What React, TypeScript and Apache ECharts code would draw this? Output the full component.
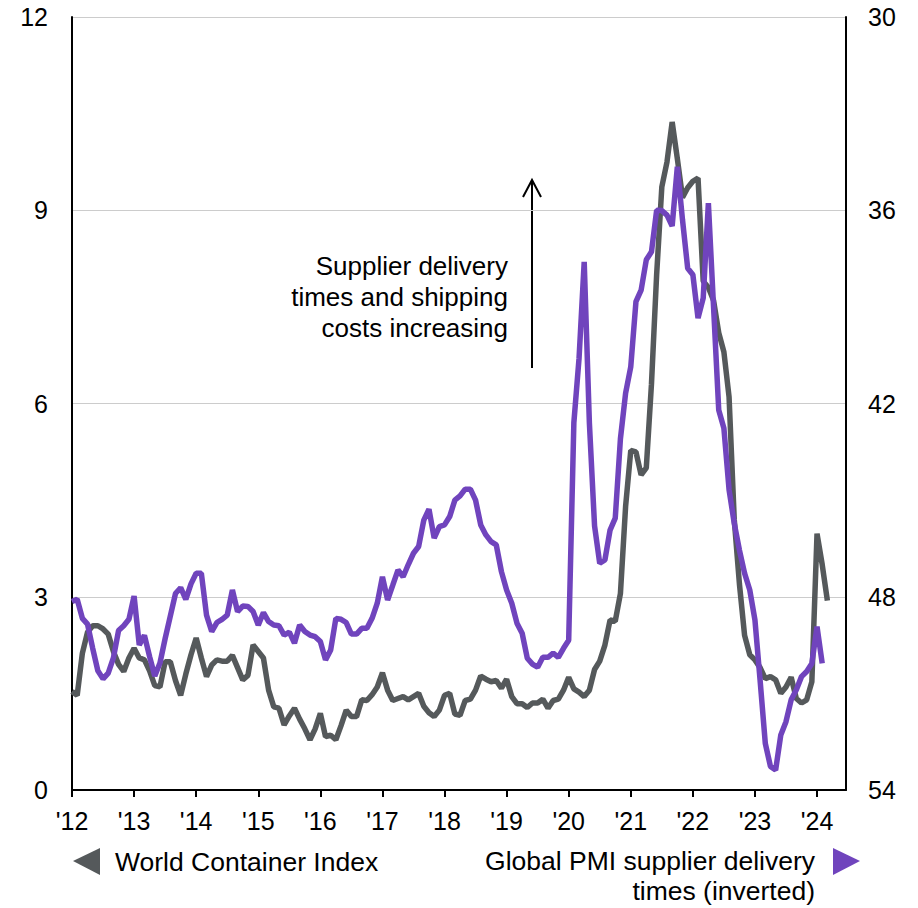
import React, { useEffect, useRef } from "react";
import * as echarts from "echarts";

// Monthly index: 0 = Jan 2012
const yearTicks = [0, 12, 24, 36, 48, 60, 72, 84, 96, 108, 120, 132, 144];

// World Container Index (left axis, US$ '000 per 40ft)
const wci = [
  1.53, 1.47, 2.12, 2.45, 2.55, 2.55, 2.5, 2.42, 2.15, 1.95, 1.84, 2.05,
  2.2, 2.05, 2.02, 1.85, 1.62, 1.6, 1.99, 1.99, 1.7, 1.47, 1.8, 2.1,
  2.36, 2.05, 1.76, 1.94, 2.02, 2.0, 2.0, 2.09, 1.9, 1.71, 1.78, 2.25,
  2.15, 2.05, 1.55, 1.29, 1.27, 1.01, 1.15, 1.27, 1.1, 0.95, 0.78, 0.95,
  1.19, 0.83, 0.85, 0.78, 1.0, 1.24, 1.14, 1.14, 1.4, 1.39, 1.48, 1.6,
  1.82, 1.55, 1.39, 1.42, 1.45, 1.4, 1.45, 1.5, 1.3, 1.2, 1.14, 1.24,
  1.47, 1.5, 1.18, 1.16, 1.39, 1.41, 1.55, 1.77, 1.72, 1.68, 1.7, 1.58,
  1.72, 1.45, 1.34, 1.34, 1.28, 1.35, 1.35, 1.41, 1.27, 1.39, 1.41, 1.55,
  1.75, 1.57, 1.52, 1.45, 1.55, 1.87, 2.0, 2.25, 2.64, 2.62, 3.05, 4.4,
  5.27, 5.25, 4.89, 5.0, 6.3, 8.0, 9.36, 9.75, 10.37, 9.8, 9.2, 9.35,
  9.45, 9.5, 7.9, 7.8, 7.6, 7.1, 6.8, 6.1, 4.2, 3.2, 2.4, 2.1,
  2.02, 1.9, 1.73, 1.76, 1.71, 1.5, 1.6, 1.75, 1.42, 1.35, 1.4, 1.68,
  3.98, 3.5, 2.94,
];

// Global PMI supplier delivery times (right axis, inverted)
const pmi = [
  48.15, 48.08, 48.67, 48.85, 49.6, 50.3, 50.55, 50.37, 49.9, 49.05, 48.9, 48.7,
  47.98, 49.5, 49.2, 49.86, 50.46, 50.06, 49.3, 48.6, 47.9, 47.72, 48.08, 47.6,
  47.27, 47.27, 48.57, 49.08, 48.8, 48.7, 48.57, 47.79, 48.46, 48.29, 48.3, 48.46,
  48.88, 48.49, 48.77, 48.88, 48.9, 49.19, 49.1, 49.44, 48.88, 49.08, 49.19, 49.24,
  49.39, 49.96, 49.65, 48.67, 48.7, 48.8, 49.16, 49.16, 48.98, 48.98, 48.67, 48.2,
  47.38, 48.1, 47.64, 47.17, 47.38, 47.0, 46.65, 46.44, 45.62, 45.28, 46.18, 45.82,
  45.77, 45.51, 45.0, 44.87, 44.66, 44.66, 45.0, 45.77, 46.08, 46.29, 46.39, 47.22,
  47.79, 48.2, 48.82, 49.13, 49.91, 50.09, 50.19, 49.88, 49.88, 49.75, 49.88, 49.6,
  49.35, 42.6, 40.6, 37.6, 42.6, 45.8, 46.96, 46.86, 45.93, 45.56, 43.1, 41.68,
  40.86, 38.84, 38.48, 37.54, 37.29, 36.0, 36.01, 36.15, 36.49, 34.65, 36.3, 37.8,
  38.0, 39.35, 38.73, 35.78, 39.0, 42.2, 42.77, 44.68, 45.72, 46.55, 47.27, 47.79,
  48.72, 50.6, 52.55, 53.27, 53.38, 52.29, 51.88, 51.2, 50.89, 50.48, 50.32, 50.07,
  48.93, 50.07,
];

const leftTicks = { min: 0, max: 12, interval: 3 };
const rightTicks = { min: 30, max: 54, interval: 6 };

const FONT = "'Liberation Sans', Arial, sans-serif";
const GRAY = "#55595b";
const PURPLE = "#7044bd";

export default function App() {
  const ref = useRef<HTMLDivElement>(null);
  useEffect(() => {
    if (!ref.current) return;
    const chart = echarts.init(ref.current, null, { renderer: "svg" });
    const option = {
      animation: false,
      backgroundColor: "#ffffff",
      grid: { left: 72, top: 17, width: 774, height: 773, containLabel: false },
      xAxis: {
        type: "value",
        min: 0,
        max: 149.6,
        interval: 12,
        axisLine: { show: true, lineStyle: { color: "#000", width: 2 } },
        axisTick: { show: true, length: 7, lineStyle: { color: "#000", width: 2 }, customValues: yearTicks },
        axisLabel: {
          customValues: yearTicks,
          margin: 18,
          fontSize: 25,
          fontFamily: FONT,
          color: "#000",
          formatter: (v: number) => "'" + String(12 + Math.round(v / 12)),
        },
        splitLine: { show: false },
      },
      yAxis: [
        {
          type: "value",
          position: "left",
          ...leftTicks,
          axisLine: { show: true, lineStyle: { color: "#000", width: 2 } },
          axisTick: { show: false },
          axisLabel: { margin: 24, fontSize: 25, fontFamily: FONT, color: "#000" },
          splitLine: { show: true, lineStyle: { color: "#cccccc", width: 1 } },
        },
        {
          type: "value",
          position: "right",
          inverse: true,
          ...rightTicks,
          axisLine: { show: true, lineStyle: { color: "#000", width: 2 } },
          axisTick: { show: false },
          axisLabel: { margin: 22, fontSize: 25, fontFamily: FONT, color: "#000" },
          splitLine: { show: false },
        },
      ],
      series: [
        {
          name: "World Container Index",
          type: "line",
          yAxisIndex: 0,
          data: wci.map((v, i) => [i, v]),
          showSymbol: false,
          symbol: "none",
          lineStyle: { color: GRAY, width: 5.5 },
          z: 2,
        },
        {
          name: "Global PMI supplier delivery times (inverted)",
          type: "line",
          yAxisIndex: 1,
          data: pmi.map((v, i) => [i, v]),
          showSymbol: false,
          symbol: "none",
          lineStyle: { color: PURPLE, width: 5.5 },
          z: 3,
        },
      ],
      graphic: [
        {
          type: "text",
          x: 508,
          y: 297,
          style: {
            text: "Supplier delivery\ntimes and shipping\ncosts increasing",
            fontSize: 26,
            fontFamily: FONT,
            fill: "#000",
            align: "right",
            verticalAlign: "middle",
            lineHeight: 31,
          },
        },
        {
          type: "line",
          shape: { x1: 532, y1: 368, x2: 532, y2: 181 },
          style: { stroke: "#000", lineWidth: 2 },
        },
        {
          type: "polyline",
          shape: { points: [[523, 197], [532, 180], [541, 197]] },
          style: { stroke: "#000", lineWidth: 2, fill: null },
        },
        {
          type: "polygon",
          shape: { points: [[73, 861], [100, 848], [100, 875]] },
          style: { fill: GRAY },
        },
        {
          type: "text",
          x: 115,
          y: 862,
          style: {
            text: "World Container Index",
            fontSize: 26.5,
            fontFamily: FONT,
            fill: "#000",
            align: "left",
            verticalAlign: "middle",
          },
        },
        {
          type: "polygon",
          shape: { points: [[860, 861], [833, 848], [833, 875]] },
          style: { fill: PURPLE },
        },
        {
          type: "text",
          x: 815,
          y: 876,
          style: {
            text: "Global PMI supplier delivery\ntimes (inverted)",
            fontSize: 26.5,
            fontFamily: FONT,
            fill: "#000",
            align: "right",
            verticalAlign: "middle",
            lineHeight: 30,
          },
        },
      ],
    };
    chart.setOption(option as any);
    return () => chart.dispose();
  }, []);
  return (
    <div
      ref={ref}
      style={{ position: "absolute", left: 0, top: 0, width: 918, height: 908 }}
    />
  );
}
